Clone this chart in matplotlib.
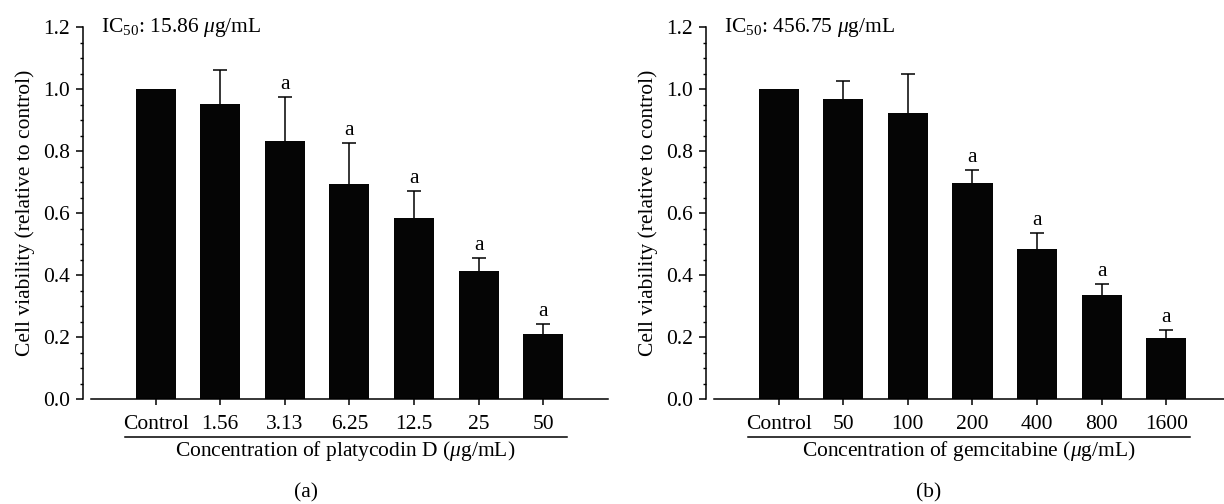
import matplotlib
matplotlib.use('Agg')
import matplotlib.pyplot as plt
from matplotlib.ticker import MultipleLocator, FormatStrFormatter
import matplotlib.transforms as mtransforms

plt.rcParams['font.family'] = ['Liberation Serif', 'DejaVu Serif']
plt.rcParams['mathtext.fontset'] = 'custom'
plt.rcParams['mathtext.rm'] = 'Liberation Serif'
plt.rcParams['mathtext.it'] = 'Liberation Serif:italic'
plt.rcParams['font.size'] = 15.5

# Data
pd_labels = ['Control', '1.56', '3.13', '6.25', '12.5', '25', '50']
pd_values = [1.0, 0.951, 0.834, 0.695, 0.584, 0.415, 0.212]
pd_err = [0.0, 0.111, 0.141, 0.132, 0.088, 0.040, 0.032]
pd_sig = [False, False, True, True, True, True, True]

gem_labels = ['Control', '50', '100', '200', '400', '800', '1600']
gem_values = [1.0, 0.968, 0.923, 0.696, 0.486, 0.337, 0.199]
gem_err = [0.0, 0.059, 0.126, 0.043, 0.051, 0.036, 0.025]
gem_sig = [False, False, False, True, True, True, True]

panels = [
    (pd_labels, pd_values, pd_err, pd_sig, 'Concentration of platycodin D ($\\mu$g/mL)',
     'IC$_{50}$: 15.86 $\\mu$g/mL', '(a)', 0.0743, 0.25),
    (gem_labels, gem_values, gem_err, gem_sig, 'Concentration of gemcitabine ($\\mu$g/mL)',
     'IC$_{50}$: 456.75 $\\mu$g/mL', '(b)', 0.5833, 0.759),
]

fig = plt.figure(figsize=(12.24, 5.04), dpi=100)

for labels, values, err, sig, xlabel, ic50, tag, left, tag_x in panels:
    ax = fig.add_axes([left, 0.2077, 0.4224, 0.7387])
    x = list(range(len(labels)))
    ax.bar(x, values, width=0.62, color='#050505', zorder=2)

    # upper error bars only
    ex = [xi for xi, e in zip(x, err) if e > 0]
    ev = [v for v, e in zip(values, err) if e > 0]
    ee = [e for e in err if e > 0]
    cont = ax.errorbar(ex, ev, yerr=[[0] * len(ee), ee], fmt='none', ecolor='black',
                       elinewidth=1.1, capsize=5, capthick=1.1, zorder=1)
    cont.lines[1][0].set_visible(False)

    for xi, v, e, s in zip(x, values, err, sig):
        if s:
            ax.annotate('a', (xi, v + e), xytext=(0, 2), textcoords='offset points',
                        ha='center', va='bottom', fontsize=15.5)

    ax.set_xlim(-1, 7)
    ax.set_ylim(0, 1.2)
    ax.spines['top'].set_visible(False)
    ax.spines['right'].set_visible(False)
    ax.spines['left'].set_position(('outward', 6))
    for sp in ['left', 'bottom']:
        ax.spines[sp].set_linewidth(1.1)

    ax.set_xticks(x)
    ax.set_xticklabels(labels)
    ax.yaxis.set_major_locator(MultipleLocator(0.2))
    ax.yaxis.set_minor_locator(MultipleLocator(0.05))
    ax.yaxis.set_major_formatter(FormatStrFormatter('%.1f'))
    ax.tick_params(axis='y', which='major', length=5, width=1.1, pad=4)
    ax.tick_params(axis='y', which='minor', length=2.5, width=1.0)
    ax.tick_params(axis='x', which='major', length=4, width=1.1, pad=7)

    ax.set_ylabel('Cell viability (relative to control)', labelpad=6)

    trans = mtransforms.blended_transform_factory(ax.transData, ax.transAxes)
    ax.plot([-0.48, 6.36], [-0.101, -0.101], color='black', linewidth=1.1,
            transform=trans, clip_on=False)
    ax.text(2.94, -0.138, xlabel, transform=trans, ha='center', va='center')
    ax.text(-0.85, 1.2, ic50, ha='left', va='center')

    fig.text(tag_x, (504 - 493) / 504, tag, ha='center', va='center')

fig.savefig('out.png', dpi=100)
